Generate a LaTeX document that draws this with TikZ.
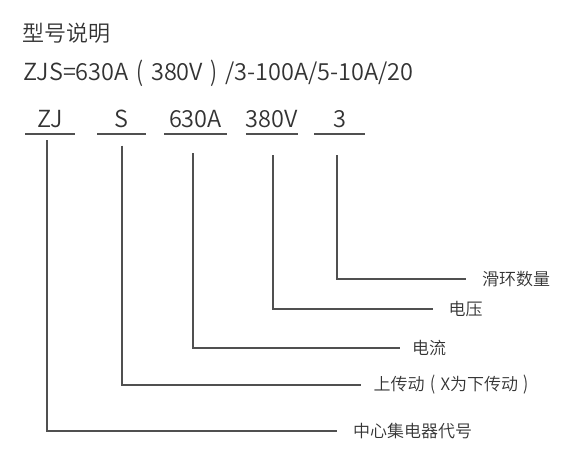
\documentclass[tikz,border=0pt]{standalone}
\usepackage{fontspec}
\setmainfont{Noto Sans CJK SC DemiLight}
\definecolor{textgray}{HTML}{333333}
\definecolor{linegray}{HTML}{505050}
\newcommand{\fwl}{\makebox[0.95em][c]{\raisebox{-0.04em}{\scalebox{0.9}[1.12]{(}}}}
\newcommand{\fwr}{\makebox[0.95em][c]{\raisebox{-0.04em}{\scalebox{0.9}[1.12]{)}}}}
\begin{document}
\begin{tikzpicture}[x=1pt,y=-1pt,
  txt/.style={inner sep=0pt, outer sep=0pt, text=textgray},
  titlefont/.style={font=\fontsize{22}{26}\selectfont},
  bigfont/.style={font=\fontsize{23.5}{28}\selectfont},
  labfont/.style={font=\fontsize{17}{20}\selectfont},
  part/.style={txt, bigfont, anchor=center},
  lab/.style={txt, labfont, anchor=west},
  uline/.style={draw=linegray, line width=1.6pt},
  connthick/.style={draw=linegray, line width=1.6pt},
  connthin/.style={draw=linegray, line width=1.1pt}]
\useasboundingbox (0,0) rectangle (571,458);

% heading lines
\node[txt, titlefont, anchor=west] (title) at (22.5,33) {型号说明};
\node[txt, bigfont, anchor=west] (code) at (23.5,73) {ZJS=630A\fwl380V\fwr/3-100A/5-10A/20};

% model parts
\node[part, minimum width=50pt] (pZJ) at (50,119) {ZJ};
\node[part, minimum width=49pt] (pS) at (121.5,119) {S};
\node[part, minimum width=63pt] (pA) at (195.5,119) {630A};
\node[part, minimum width=50pt] (pV) at (272,119) {380V};
\node[part, minimum width=51pt] (pN) at (339.5,119) {3};

\coordinate (ul) at (0,134);
\foreach \p in {pZJ,pS,pA,pV,pN}
  \draw[uline] (\p.west |- ul) -- (\p.east |- ul);

% explanations
\node[lab] (lN) at (482,279) {滑环数量};
\node[lab] (lV) at (448.5,309) {电压};
\node[lab] (lA) at (412,348) {电流};
\node[lab] (lS) at (373.5,385) {上传动\fwl X为下传动\fwr};
\node[lab] (lZJ) at (353,431) {中心集电器代号};

% connector starts
\coordinate (vZJ) at (47,140);
\coordinate (vS) at (122,145.5);
\coordinate (vA) at (193,153);
\coordinate (vV) at (273,155);
\coordinate (vN) at (337,155);

\draw[connthin] (vN) |- ([xshift=-16pt]lN.west);
\draw[connthin] (vV) |- ([xshift=-15.5pt]lV.west);
\draw[connthin] (vA) |- ([xshift=-12pt]lA.west);
\draw[connthick] (vS) |- ([xshift=-12.5pt]lS.west);
\draw[connthick] (vZJ) |- ([xshift=-16pt]lZJ.west);
\end{tikzpicture}
\end{document}
